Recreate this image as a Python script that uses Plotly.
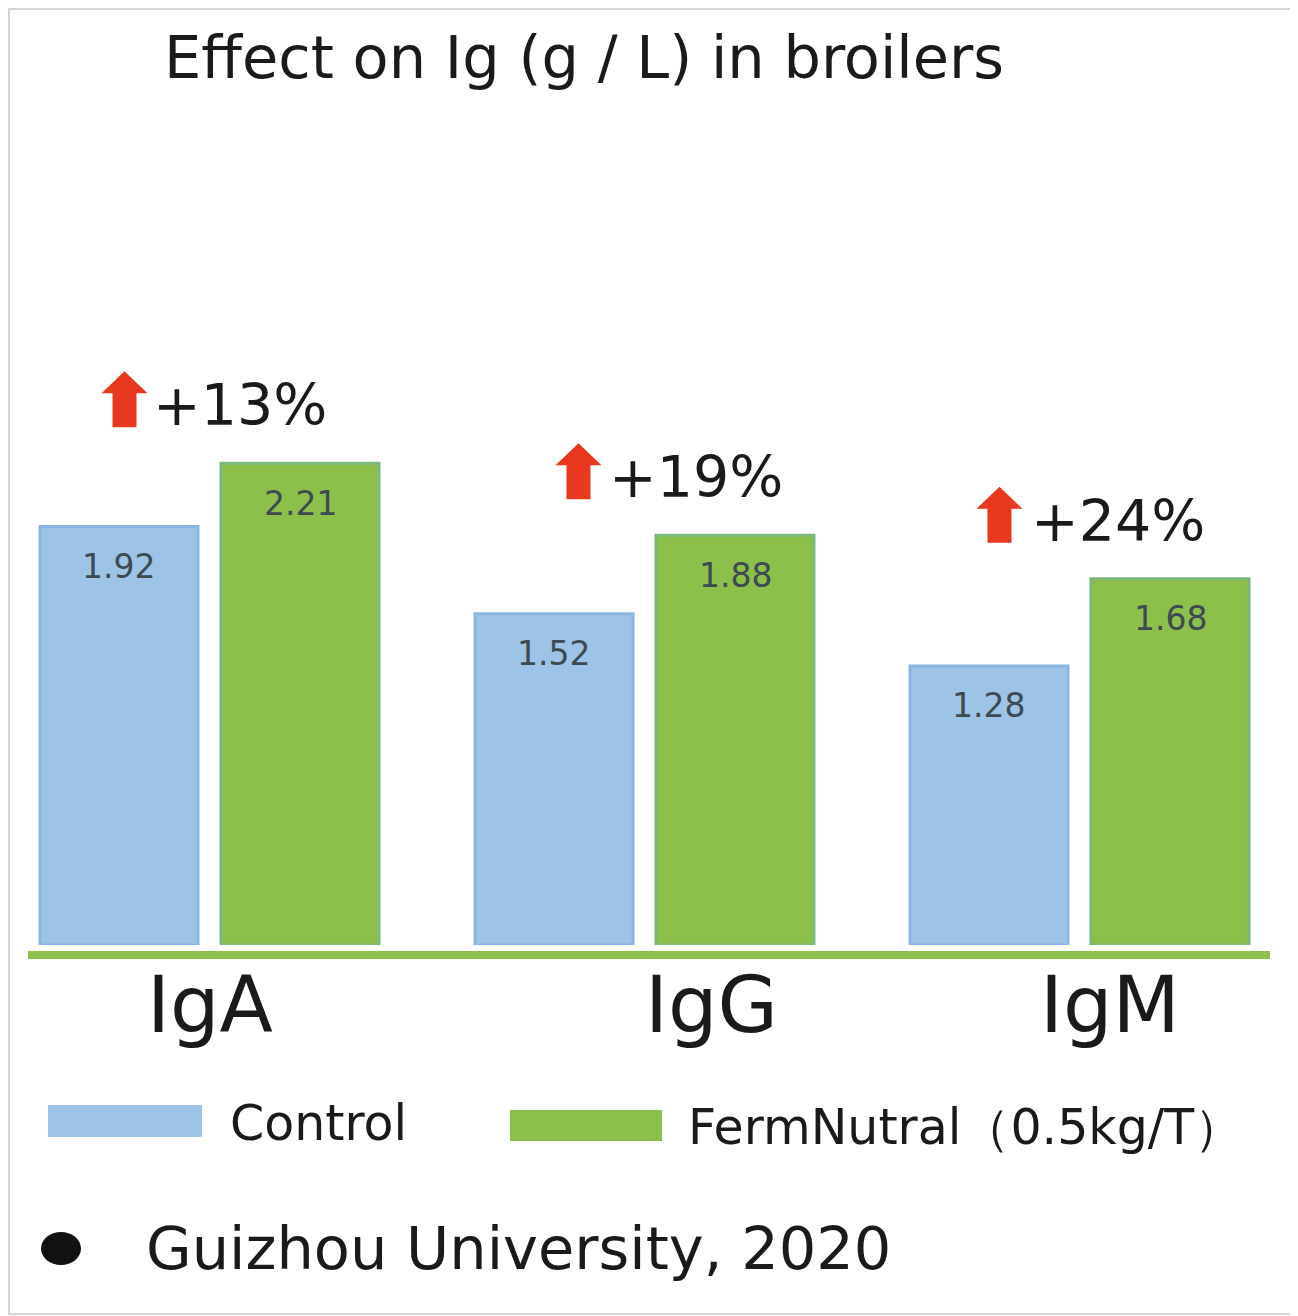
import plotly.graph_objects as go

categories = ["IgA", "IgG", "IgM"]
control = [1.92, 1.52, 1.28]
fermnutral = [2.21, 1.88, 1.68]
increase = ["+13%", "+19%", "+24%"]
series_names = ["Control", "FermNutral（0.5kg/T）"]
title = "Effect on Ig (g / L) in broilers"
source = "Guizhou University, 2020"

# page body adds an 8px margin, so the figure is shifted by that much
OFF = 8
W_FIG, H_FIG = 1290, 1308
L, T = 20, 92
R = W_FIG - 1262
B = H_FIG - 937
PW = W_FIG - L - R
PH = H_FIG - T - B


def fx(px):
    return (px - OFF - L) / PW


def fy(py):
    return (T + PH - (py - OFF)) / PH


BLUE = "#9dc3e6"
BLUE_EDGE = "#8ab6e0"
GREEN = "#8cc04b"
GREEN_EDGE = "#7ab87e"
RED = "#e8381f"
TEXT = "#1a1a1a"
FONT = "DejaVu Sans"

xs = list(range(len(categories)))

fig = go.Figure()
fig.add_trace(go.Bar(x=xs, y=control, name=series_names[0],
                     marker=dict(color=BLUE, line=dict(color=BLUE_EDGE, width=3))))
fig.add_trace(go.Bar(x=xs, y=fermnutral, name=series_names[1],
                     marker=dict(color=GREEN, line=dict(color=GREEN_EDGE, width=3))))

annotations = []
shapes = []

# value labels inside bars
for i in xs:
    for vals, shift in ((control, -91), (fermnutral, 91)):
        annotations.append(dict(x=i, y=vals[i], xref="x", yref="y", xshift=shift, yshift=-40,
                                text=f"{vals[i]:.2f}", showarrow=False,
                                font=dict(family=FONT, size=33, color="#3e4a52")))

# increase arrows and percentages above the green bars
arrow_dx = [-85, -66, -80]
text_dx = [30, 51, 38]
for i in xs:
    annotations.append(dict(x=i, y=fermnutral[i], xref="x", yref="y", xshift=text_dx[i], yshift=58,
                            text=increase[i], showarrow=False,
                            font=dict(family=FONT, size=57, color=TEXT)))
    a = arrow_dx[i]
    path = (f"M {a-23},70 L {a},92 L {a+23},70 L {a+12},70 L {a+12},36 "
            f"L {a-12},36 L {a-12},70 Z")
    shapes.append(dict(type="path", xref="x", yref="y", xsizemode="pixel", ysizemode="pixel",
                       xanchor=i, yanchor=fermnutral[i], path=path,
                       fillcolor=RED, line=dict(width=0)))

# category labels
cat_dx = [0, 67, 30]
for i in xs:
    annotations.append(dict(x=i, y=fy(1005), xref="x", yref="paper", xshift=cat_dx[i],
                            text=categories[i], showarrow=False, yanchor="middle",
                            font=dict(family=FONT, size=78, color=TEXT)))

# baseline
shapes.append(dict(type="line", xref="paper", yref="paper", x0=fx(28), x1=fx(1270),
                   y0=fy(955), y1=fy(955), line=dict(color=GREEN, width=8)))

# legend
shapes.append(dict(type="rect", xref="paper", yref="paper", x0=fx(48), x1=fx(202),
                   y0=fy(1137), y1=fy(1105), fillcolor=BLUE, line=dict(width=0)))
shapes.append(dict(type="rect", xref="paper", yref="paper", x0=fx(510), x1=fx(662),
                   y0=fy(1141), y1=fy(1110), fillcolor=GREEN, line=dict(width=0)))
annotations.append(dict(x=fx(228), y=fy(1123), xref="paper", yref="paper", xanchor="left",
                        yanchor="middle", text=series_names[0], showarrow=False,
                        font=dict(family=FONT, size=49, color=TEXT)))
annotations.append(dict(x=fx(686), y=fy(1127), xref="paper", yref="paper", xanchor="left",
                        yanchor="middle", text=series_names[1], showarrow=False,
                        font=dict(family=FONT, size=49, color=TEXT)))

# source line
shapes.append(dict(type="circle", xref="paper", yref="paper", x0=fx(41), x1=fx(81),
                   y0=fy(1265), y1=fy(1232), fillcolor="#111111", line=dict(width=0)))
annotations.append(dict(x=fx(144), y=fy(1248), xref="paper", yref="paper", xanchor="left",
                        yanchor="middle", text=source, showarrow=False,
                        font=dict(family=FONT, size=59, color=TEXT)))

# title
annotations.append(dict(x=fx(162), y=fy(57), xref="paper", yref="paper", xanchor="left",
                        yanchor="middle", text=title, showarrow=False,
                        font=dict(family=FONT, size=59, color=TEXT)))

# outer frame
shapes.append(dict(type="rect", xref="paper", yref="paper", x0=fx(OFF + 1), x1=fx(1297),
                   y0=fy(1314), y1=fy(OFF + 1), line=dict(color="#d4d4d4", width=2)))

fig.update_layout(
    width=W_FIG, height=H_FIG,
    margin=dict(l=L, r=R, t=T, b=B, pad=0),
    paper_bgcolor="white", plot_bgcolor="white",
    barmode="group", bargap=0.168, bargroupgap=0.127,
    showlegend=False,
    xaxis=dict(range=[-181.5 / 435, (PW - 181.5) / 435], showticklabels=False,
               showgrid=False, zeroline=False, showline=False),
    yaxis=dict(range=[0, PH / 218], showticklabels=False, showgrid=False,
               zeroline=False, showline=False),
    annotations=annotations, shapes=shapes,
)

fig.write_html("out.html")
